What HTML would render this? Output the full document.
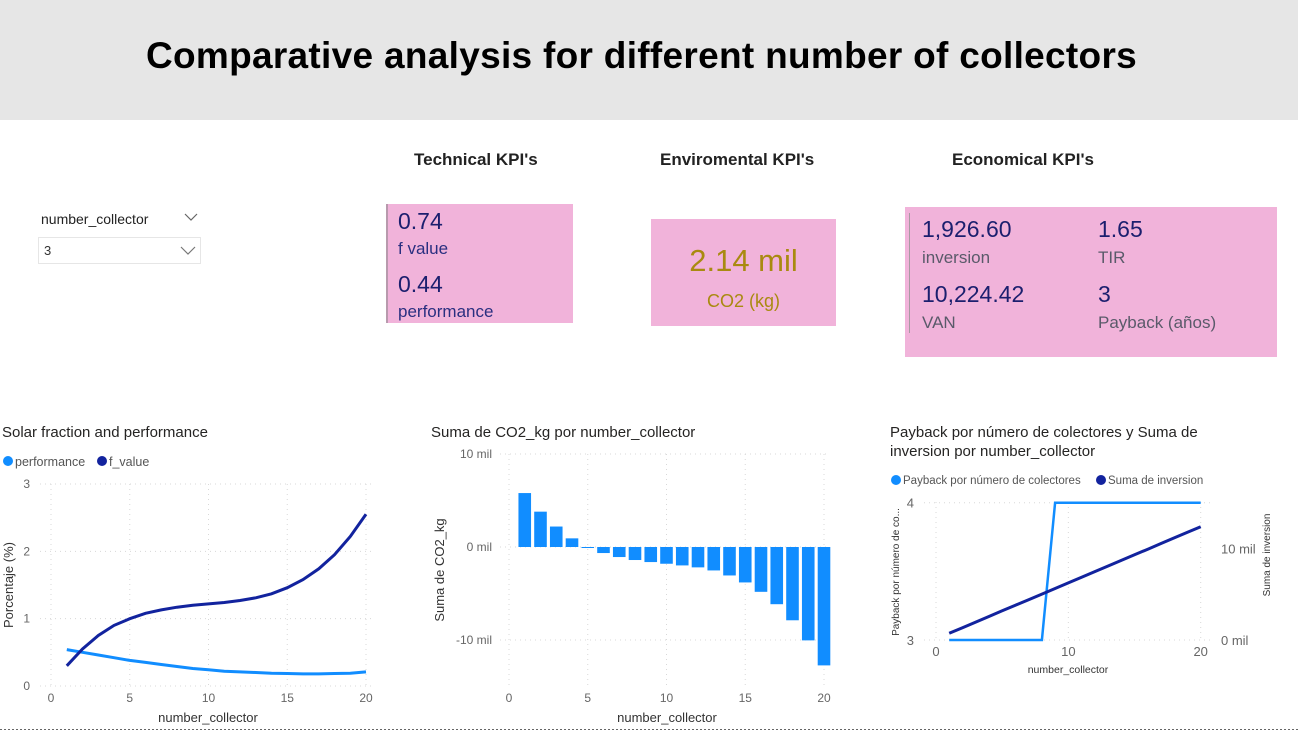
<!DOCTYPE html>
<html><head><meta charset="utf-8"><style>
body{margin:0;width:1298px;height:732px;overflow:hidden;background:#fff;font-family:"Liberation Sans","DejaVu Sans",sans-serif;position:relative}
.a{position:absolute}
.hdr{left:0;top:0;width:1298px;height:120px;background:#e6e6e6}
.ttl{left:0;top:35px;width:1283px;text-align:center;font-size:37px;font-weight:bold;color:#000;letter-spacing:0.3px}
.kh{font-size:17px;font-weight:bold;color:#222}
.box{background:#f1b3da}
.n{font-size:23px;color:#1b1f6e}
.l{font-size:17px;color:#2a2f80}
.g{font-size:17px;color:#5a5a6a}
</style></head><body>
<div class="a hdr"></div>
<div class="a ttl">Comparative analysis for different number of collectors</div>

<div class="a" style="left:41px;top:211px;font-size:14px;color:#222">number_collector</div>
<svg class="a" style="left:184px;top:212px" width="14" height="10"><path d="M1 2 L7 8 L13 2" fill="none" stroke="#666" stroke-width="1.2"/></svg>
<div class="a" style="left:38px;top:237px;width:161px;height:25px;border:1px solid #e6e6e6">
<span class="a" style="left:5px;top:5px;font-size:13px;color:#333">3</span>
<svg class="a" style="left:141px;top:8px" width="16" height="10"><path d="M1 1 L8 8 L15 1" fill="none" stroke="#777" stroke-width="1.2"/></svg></div>

<div class="a kh" style="left:414px;top:150px">Technical KPI's</div>
<div class="a kh" style="left:660px;top:150px">Enviromental KPI's</div>
<div class="a kh" style="left:952px;top:150px">Economical KPI's</div>

<div class="a box" style="left:386px;top:204px;width:187px;height:119px;border-left:2px solid #b89aad;box-sizing:border-box">
<div class="a n" style="left:10px;top:4px">0.74</div>
<div class="a l" style="left:10px;top:35px">f value</div>
<div class="a n" style="left:10px;top:67px">0.44</div>
<div class="a l" style="left:10px;top:98px">performance</div></div>

<div class="a box" style="left:651px;top:219px;width:185px;height:107px">
<div class="a" style="left:0;top:24px;width:185px;text-align:center;font-size:31px;color:#a98a10">2.14 mil</div>
<div class="a" style="left:0;top:72px;width:185px;text-align:center;font-size:18px;color:#a98a10">CO2 (kg)</div></div>

<div class="a box" style="left:905px;top:207px;width:372px;height:150px">
<div class="a" style="left:4px;top:6px;width:1px;height:120px;background:#a89aa2"></div>
<div class="a n" style="left:17px;top:9px">1,926.60</div>
<div class="a g" style="left:17px;top:41px">inversion</div>
<div class="a n" style="left:193px;top:9px">1.65</div>
<div class="a g" style="left:193px;top:41px">TIR</div>
<div class="a n" style="left:17px;top:74px">10,224.42</div>
<div class="a g" style="left:17px;top:106px">VAN</div>
<div class="a n" style="left:193px;top:74px">3</div>
<div class="a g" style="left:193px;top:106px">Payback (años)</div></div>

<svg id="c" class="a" style="left:0;top:0" width="1298" height="732" font-family="Liberation Sans, DejaVu Sans, sans-serif"></svg>
<script>
const xs=[1,2,3,4,5,6,7,8,9,10,11,12,13,14,15,16,17,18,19,20];
const fValue=[0.30,0.55,0.75,0.90,1.00,1.08,1.13,1.17,1.20,1.22,1.24,1.27,1.31,1.37,1.46,1.58,1.74,1.95,2.22,2.55];
const performance=[0.54,0.50,0.46,0.42,0.38,0.35,0.32,0.29,0.26,0.24,0.22,0.21,0.20,0.19,0.185,0.18,0.18,0.185,0.19,0.21];
const co2Mil=[5.8,3.8,2.2,0.93,-0.07,-0.65,-1.08,-1.4,-1.62,-1.8,-1.98,-2.19,-2.52,-3.06,-3.81,-4.82,-6.15,-7.88,-10.04,-12.73];
const payback=[3,3,3,3,3,3,3,3,4,4,4,4,4,4,4,4,4,4,4,4];
const inversionMil=[0.73,1.34,1.95,2.56,3.18,3.79,4.40,5.01,5.62,6.23,6.85,7.46,8.07,8.68,9.29,9.90,10.52,11.13,11.74,12.35];
const t1x=[0,5,10,15,20], t1y=[0,1,2,3];
const t2y=[10,0,-10], t2yLbl=["10 mil","0 mil","-10 mil"];
const t3x=[0,10,20], t3yL=[3,4], t3yR=[0,10];

const S=document.getElementById('c'),NS='http://www.w3.org/2000/svg';
function el(t,a,p){const e=document.createElementNS(NS,t);for(const k in a)e.setAttribute(k,a[k]);(p||S).appendChild(e);return e;}
function tx(x,y,s,o){const e=el('text',Object.assign({x:x,y:y,'font-size':12,fill:'#666'},o||{}));e.textContent=s;return e;}
const grid={stroke:'#d8d8d8','stroke-dasharray':'1,4','stroke-width':1};
function lin(d0,d1,r0,r1){return v=>r0+(v-d0)*(r1-r0)/(d1-d0);}
function path(X,Y,xv,yv){return xv.map((v,i)=>(i?'L':'M')+X(v).toFixed(1)+' '+Y(yv[i]).toFixed(1)).join(' ');}

// Chart 1
let g1=el('g',{});
let X1=lin(0,20,51,366),Y1=lin(0,3,686,484);
tx(2,437,'Solar fraction and performance',{'font-size':15,fill:'#252423'},g1);
let lg=el('circle',{cx:8,cy:461,r:5,fill:'#118dff'},g1);
tx(15,466,'performance',{'font-size':12.5,fill:'#555'},g1);
let lg2=el('circle',{cx:102,cy:461,r:5,fill:'#12239e'},g1);
tx(109,466,'f_value',{'font-size':12.5,fill:'#555'},g1);
t1y.forEach(v=>{el('line',Object.assign({x1:40,x2:372,y1:Y1(v),y2:Y1(v)},grid),g1);tx(30,Y1(v)+4,v,{'text-anchor':'end'},g1);});
t1x.forEach(v=>{el('line',Object.assign({x1:X1(v),x2:X1(v),y1:484,y2:686},grid),g1);tx(X1(v),702,v,{'text-anchor':'middle'},g1);});
tx(208,722,'number_collector',{'text-anchor':'middle','font-size':13,fill:'#333'},g1);
tx(0,0,'Porcentaje (%)',{'text-anchor':'middle','font-size':13,fill:'#333',transform:'translate(13,585) rotate(-90)'},g1);
let p1=el('path',{d:path(X1,Y1,xs,performance),fill:'none',stroke:'#118dff','stroke-width':3},g1);
let p2=el('path',{d:path(X1,Y1,xs,fValue),fill:'none',stroke:'#12239e','stroke-width':3},g1);

// Chart 2
let g2=el('g',{});
let X2=lin(0,20,509,824),Y2=lin(0,10,547,454);
tx(431,437,'Suma de CO2_kg por number_collector',{'font-size':15,fill:'#252423'},g2);
t2y.forEach((v,i)=>{el('line',Object.assign({x1:500,x2:830,y1:Y2(v),y2:Y2(v)},grid),g2);tx(492,Y2(v)+4,t2yLbl[i],{'text-anchor':'end'},g2);});
t1x.forEach(v=>{el('line',Object.assign({x1:X2(v),x2:X2(v),y1:454,y2:688},grid),g2);tx(X2(v),702,v,{'text-anchor':'middle'},g2);});
tx(667,722,'number_collector',{'text-anchor':'middle','font-size':13,fill:'#333'},g2);
tx(0,0,'Suma de CO2_kg',{'text-anchor':'middle','font-size':13,fill:'#333',transform:'translate(444,570) rotate(-90)'},g2);
xs.forEach((x,i)=>{const v=co2Mil[i],y0=Y2(0),y1=Y2(v);
 const b=el('rect',{x:X2(x)-6.3,y:Math.min(y0,y1),width:12.6,height:Math.max(1,Math.abs(y1-y0)),fill:'#118dff'},g2);
 
 });

// Chart 3
let g3=el('g',{});
let X3=lin(0,20,936,1200.7),YL=lin(3,4,640,502.7),YR=lin(0,10,640,548.3);
tx(890,437,'Payback por número de colectores y Suma de',{'font-size':15,fill:'#252423'},g3);
tx(890,456,'inversion por number_collector',{'font-size':15,fill:'#252423'},g3);
let lg3=el('circle',{cx:896,cy:480,r:5,fill:'#118dff'},g3);
tx(903,484,'Payback por número de colectores',{'font-size':11.5,fill:'#555'},g3);
let lg4=el('circle',{cx:1101,cy:480,r:5,fill:'#12239e'},g3);
tx(1108,484,'Suma de inversion',{'font-size':11.5,fill:'#555'},g3);
t3yL.forEach(v=>{el('line',Object.assign({x1:924,x2:1210,y1:YL(v),y2:YL(v)},grid),g3);tx(914,YL(v)+5,v,{'text-anchor':'end','font-size':13},g3);});
t3yR.forEach(v=>{tx(1221,YR(v)+5,v+' mil',{'font-size':13},g3);});
t3x.forEach(v=>{el('line',Object.assign({x1:X3(v),x2:X3(v),y1:502,y2:640},grid),g3);tx(X3(v),656,v,{'text-anchor':'middle','font-size':13},g3);});
tx(1068,673,'number_collector',{'text-anchor':'middle','font-size':10.5,fill:'#333'},g3);
tx(0,0,'Payback por número de co...',{'text-anchor':'middle','font-size':10,fill:'#333',transform:'translate(899,572) rotate(-90)'},g3);
tx(0,0,'Suma de inversion',{'text-anchor':'middle','font-size':10,fill:'#333',transform:'translate(1270,555) rotate(-90)'},g3);
let p3=el('path',{d:path(X3,YL,xs,payback),fill:'none',stroke:'#118dff','stroke-width':2.5},g3);
let p4=el('path',{d:path(X3,YR,xs,inversionMil),fill:'none',stroke:'#12239e','stroke-width':3},g3);

let bl=el('line',{x1:0,x2:1298,y1:729.5,y2:729.5,stroke:'#666','stroke-dasharray':'2,2','stroke-width':1});


</script>
</body></html>
